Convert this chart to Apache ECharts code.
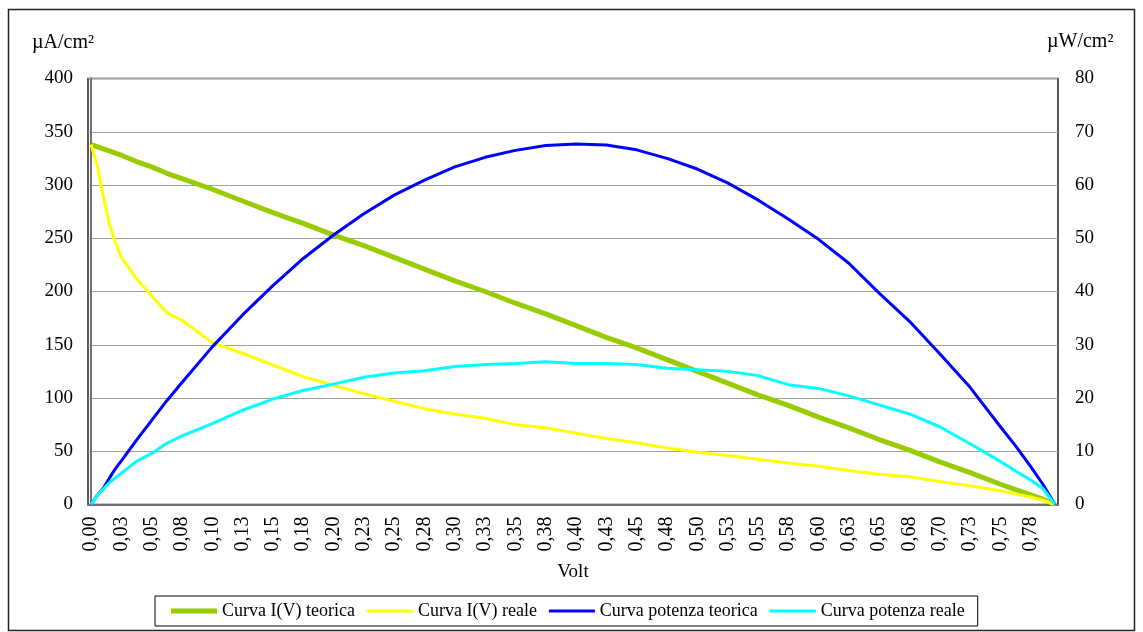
<!DOCTYPE html>
<html>
<head>
<meta charset="utf-8">
<title>Curve I(V) e potenza</title>
<script src="https://cdn.jsdelivr.net/npm/echarts@6/dist/echarts.min.js"></script>
<style>
  html, body { margin: 0; padding: 0; background: #fff; }
  #chart { width: 1143px; height: 632px; }
</style>
</head>
<body>
<div id="chart"></div>
<script>
// Tensione (V) dei punti campionati
const volt = [0, 0.005, 0.01, 0.015, 0.02, 0.025, 0.0375, 0.05, 0.0625, 0.075,
  0.1, 0.125, 0.15, 0.175, 0.2, 0.225, 0.25, 0.275, 0.3, 0.325, 0.35, 0.375,
  0.4, 0.425, 0.45, 0.475, 0.5, 0.525, 0.55, 0.575, 0.6, 0.625, 0.65, 0.675,
  0.7, 0.725, 0.75, 0.7625, 0.775, 0.785, 0.795];

// Densità di corrente (µA/cm²)
const iTeorica = [338, 336, 334, 332, 330, 328, 322, 317, 311, 306,
  296, 285, 274, 264, 253, 243, 232, 221, 210, 200, 189, 179,
  168, 157, 147, 136, 125, 114, 103, 93, 82, 72, 61, 51,
  40, 30, 19, 14, 9, 5, 0];
const iReale = [338, 319, 290, 264, 246, 232, 212, 196, 180, 173,
  152, 142, 131, 120, 112, 104, 97, 90, 85, 81, 75, 72,
  67, 62, 58, 53, 49, 46, 42.5, 39, 36, 32, 28.5, 26,
  21.5, 17.5, 13, 10, 7, 4, 0];

// Densità di potenza (µW/cm²)
const pTeorica = [0, 1.7, 3.0, 4.9, 6.7, 8.2, 12.1, 15.8, 19.5, 22.9,
  29.6, 35.6, 41.1, 46.2, 50.6, 54.6, 58.1, 60.9, 63.4, 65.2, 66.5, 67.4,
  67.7, 67.5, 66.6, 65.0, 63.0, 60.4, 57.2, 53.6, 49.8, 45.3, 39.7, 34.4,
  28.3, 22.0, 14.6, 11.0, 7.1, 3.8, 0];
const pReale = [0, 1.7, 2.9, 4.1, 5.0, 5.9, 8.1, 9.6, 11.5, 12.9,
  15.2, 17.7, 19.8, 21.4, 22.6, 23.9, 24.7, 25.1, 25.9, 26.3, 26.5, 26.8,
  26.5, 26.5, 26.3, 25.6, 25.3, 25.0, 24.2, 22.5, 21.8, 20.4, 18.7, 17.0,
  14.6, 11.4, 8.1, 6.3, 4.6, 3.0, 0];

// Etichette dell'asse X (passo 0,025 V)
const tickStep = 0.025;
const tickLabels = ['0,00', '0,03', '0,05', '0,08', '0,10', '0,13', '0,15', '0,18',
  '0,20', '0,23', '0,25', '0,28', '0,30', '0,33', '0,35', '0,38', '0,40', '0,43',
  '0,45', '0,48', '0,50', '0,53', '0,55', '0,58', '0,60', '0,63', '0,65', '0,68',
  '0,70', '0,73', '0,75', '0,78'];
const tickValues = tickLabels.map((_, i) => +(i * tickStep).toFixed(4));

const seriesNames = ['Curva I(V) teorica', 'Curva I(V) reale',
  'Curva potenza teorica', 'Curva potenza reale'];

const FONT = "'Liberation Serif', 'Times New Roman', serif";
const pairs = arr => volt.map((v, i) => [v, arr[i]]);

// Icone di legenda: barre piene, la curva teorica I(V) è più spessa
const thickBar = 'path://M0,0L46,0L46,5L0,5Z';
const thinBar = 'path://M0,0L46,0L46,3L0,3Z';

const chart = echarts.init(document.getElementById('chart'), null, { renderer: 'canvas' });

chart.setOption({
  backgroundColor: '#ffffff',
  animation: false,
  textStyle: { fontFamily: FONT, color: '#000' },
  grid: {
    left: 88, right: 85, top: 78.5, bottom: 127.5,
    show: true, borderColor: '#222', borderWidth: 1.5, backgroundColor: '#fff'
  },
  graphic: [
    {
      type: 'rect', silent: true, z: -1,
      shape: { x: 8.5, y: 9.5, width: 1126, height: 621 },
      style: { fill: 'none', stroke: '#222', lineWidth: 1.5 }
    },
    {
      type: 'text', left: 32, top: 33,
      style: { text: 'µA/cm²', font: '20px ' + FONT, fill: '#000' }
    },
    {
      type: 'text', left: 1047, top: 32,
      style: { text: 'µW/cm²', font: '20px ' + FONT, fill: '#000' }
    }
  ],
  legend: {
    data: [
      { name: seriesNames[0], icon: thickBar },
      { name: seriesNames[1], icon: thinBar },
      { name: seriesNames[2], icon: thinBar },
      { name: seriesNames[3], icon: thinBar }
    ],
    left: 155, top: 596,
    orient: 'horizontal',
    itemWidth: 46, itemHeight: 14, itemGap: 12,
    padding: [6, 13, 6, 16],
    borderColor: '#000', borderWidth: 1,
    textStyle: { fontFamily: FONT, fontSize: 18, color: '#000' }
  },
  xAxis: {
    type: 'value',
    min: -0.0025, max: 0.7975,
    name: 'Volt',
    nameLocation: 'middle',
    nameGap: 58,
    nameTextStyle: { fontFamily: FONT, fontSize: 19, color: '#000' },
    axisLine: { show: true, onZero: false, lineStyle: { color: '#707070', width: 2 } },
    axisTick: { show: false },
    splitLine: { show: false },
    axisLabel: {
      customValues: tickValues,
      rotate: 90,
      margin: 12,
      fontFamily: FONT, fontSize: 20, color: '#000',
      formatter: v => tickLabels[Math.round(v / tickStep)] || ''
    }
  },
  yAxis: [
    {
      type: 'value', min: 0, max: 400, interval: 50,
      position: 'left',
      axisLine: { show: true, lineStyle: { color: '#707070', width: 2 } },
      axisTick: { show: false },
      splitLine: { show: true, lineStyle: { color: '#a0a0a0', width: 1 } },
      axisLabel: { margin: 15, fontFamily: FONT, fontSize: 19, color: '#000' }
    },
    {
      type: 'value', min: 0, max: 80, interval: 10,
      position: 'right',
      axisLine: { show: false },
      axisTick: { show: false },
      splitLine: { show: false },
      axisLabel: { margin: 17, fontFamily: FONT, fontSize: 19, color: '#000' }
    }
  ],
  series: [
    {
      name: seriesNames[0], type: 'line', yAxisIndex: 0,
      data: pairs(iTeorica), symbol: 'none',
      lineStyle: { color: '#99cc00', width: 5 }, itemStyle: { color: '#99cc00' }
    },
    {
      name: seriesNames[1], type: 'line', yAxisIndex: 0,
      data: pairs(iReale), symbol: 'none',
      lineStyle: { color: '#ffff00', width: 3 }, itemStyle: { color: '#ffff00' }
    },
    {
      name: seriesNames[2], type: 'line', yAxisIndex: 1,
      data: pairs(pTeorica), symbol: 'none',
      lineStyle: { color: '#0000ff', width: 3 }, itemStyle: { color: '#0000ff' }
    },
    {
      name: seriesNames[3], type: 'line', yAxisIndex: 1,
      data: pairs(pReale), symbol: 'none',
      lineStyle: { color: '#00ffff', width: 3 }, itemStyle: { color: '#00ffff' }
    }
  ]
});
</script>
</body>
</html>
